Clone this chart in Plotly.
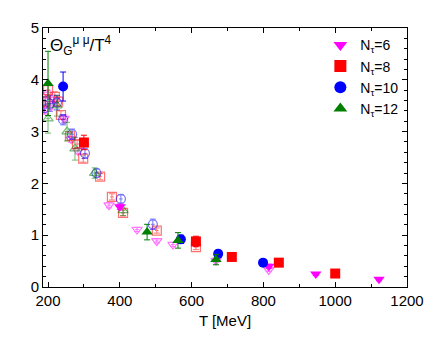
import plotly.graph_objects as go

# Filled symbols (legend series)
t6 = [400, 815, 946, 1122]
v6 = [1.55, 0.40, 0.25, 0.15]
e6 = [0.05, 0.04, 0.03, 0.03]

t8 = [300, 612, 712, 843, 1000]
v8 = [2.79, 0.88, 0.58, 0.47, 0.26]
e8 = [0.14, 0.10, 0.04, 0.04, 0.03]

t10 = [242, 570, 674, 799]
v10 = [3.87, 0.92, 0.64, 0.47]
e10 = [0.28, 0.08, 0.07, 0.06]

t12 = [200, 476, 562, 668]
v12 = [3.93, 1.06, 0.90, 0.53]
e12 = [0.62, 0.15, 0.15, 0.10]

# Open symbols (second data set, no legend entry)
t6o = [190, 200, 208, 218, 245, 265, 283, 370, 448, 503, 548, 668, 815]
v6o = [3.42, 3.72, 3.50, 3.62, 3.25, 2.85, 2.63, 1.58, 1.11, 0.89, 0.82, 0.51, 0.33]
e6o = [0.08, 0.08, 0.08, 0.08, 0.07, 0.06, 0.06, 0.05, 0.04, 0.04, 0.04, 0.03, 0.03]

t8o = [192, 200, 219, 228, 236, 261, 281, 298, 345, 378, 409, 503, 612]
v8o = [3.58, 3.80, 3.67, 3.58, 3.32, 2.91, 2.76, 2.48, 2.13, 1.74, 1.43, 1.09, 0.77]
e8o = [0.10, 0.10, 0.10, 0.09, 0.08, 0.08, 0.07, 0.07, 0.06, 0.06, 0.06, 0.05, 0.05]

t10o = [188, 205, 225, 242, 267, 303, 335, 403, 492]
v10o = [3.52, 3.54, 3.56, 3.23, 2.95, 2.58, 2.20, 1.70, 1.21]
e10o = [0.15, 0.15, 0.14, 0.10, 0.10, 0.10, 0.08, 0.08, 0.10]

t12o = [200, 225, 253, 275, 330, 409]
v12o = [3.25, 3.50, 3.00, 2.67, 2.20, 1.48]
e12o = [0.28, 0.20, 0.18, 0.22, 0.10, 0.10]

series = [
    ("N<sub>τ</sub>=6", "#ff00ff", "triangle-down", t6, v6, e6, t6o, v6o, e6o),
    ("N<sub>τ</sub>=8", "#ff0000", "square", t8, v8, e8, t8o, v8o, e8o),
    ("N<sub>τ</sub>=10", "#0000ff", "circle", t10, v10, e10, t10o, v10o, e10o),
    ("N<sub>τ</sub>=12", "#007f00", "triangle-up", t12, v12, e12, t12o, v12o, e12o),
]

FONT = "Liberation Sans, Arial, sans-serif"

fig = go.Figure()

# open symbols first, drawn faint underneath
for name, col, sym, t, v, e, to, vo, eo in series:
    fig.add_trace(go.Scatter(
        x=to, y=vo, mode="markers", showlegend=False, opacity=0.55,
        marker=dict(symbol=sym + "-open", size=9, color=col, line=dict(width=1.2)),
        error_y=dict(type="data", array=eo, color=col, thickness=1, width=3),
        error_x=dict(type="constant", value=5, color=col, thickness=1, width=0),
    ))

for name, col, sym, t, v, e, to, vo, eo in series:
    fig.add_trace(go.Scatter(
        x=t, y=v, mode="markers", name=name,
        marker=dict(symbol=sym, size=10, color=col, line=dict(width=0)),
        error_y=dict(type="data", array=e, color=col, thickness=1, width=3),
        error_x=dict(type="constant", value=5, color=col, thickness=1, width=0),
    ))

axis_common = dict(
    showgrid=False, zeroline=False, showline=True, linecolor="black", linewidth=1,
    mirror="allticks", ticks="inside", ticklen=5, tickcolor="black",
    tickfont=dict(family=FONT, size=15, color="black"),
)

fig.update_xaxes(range=[186, 1200], dtick=200, tick0=200,
                 minor=dict(dtick=100, ticks="inside", ticklen=3, tickcolor="black"),
                 title=dict(text="T [MeV]", standoff=7,
                            font=dict(family=FONT, size=15, color="black")),
                 **axis_common)
fig.update_yaxes(range=[0, 5], dtick=1,
                 minor=dict(dtick=0.2, ticks="inside", ticklen=3, tickcolor="black"),
                 **axis_common)

fig.add_annotation(text="Θ<sub>G</sub><sup>μ μ</sup>/T<sup>4</sup>", xref="paper", yref="paper",
                   x=0.015, y=0.99, xanchor="left", yanchor="top", showarrow=False,
                   font=dict(family=FONT, size=17, color="black"))

# page body has an 8px margin, so offsets are shifted accordingly
fig.update_layout(
    width=436, height=339,
    margin=dict(l=35, r=37, t=11, b=60),
    plot_bgcolor="white", paper_bgcolor="white",
    font=dict(family=FONT, size=15, color="black"),
    legend=dict(x=0.99, y=0.995, xanchor="right", yanchor="top", bgcolor="rgba(0,0,0,0)",
                font=dict(size=14), tracegroupgap=0, itemsizing="constant"),
)

fig.write_html("out.html")
